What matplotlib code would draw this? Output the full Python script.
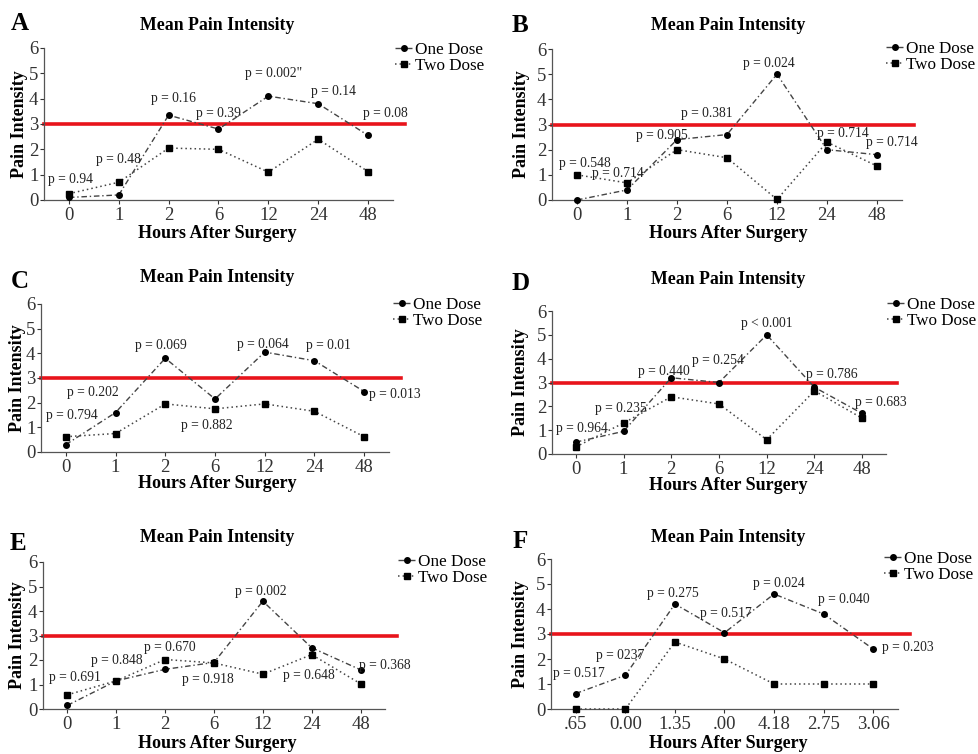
import matplotlib
matplotlib.use('Agg')
import matplotlib.pyplot as plt

plt.rcParams['font.family'] = ['Liberation Serif', 'DejaVu Serif']

W, H = 979, 754

hours = ['0', '1', '2', '6', '12', '24', '48']
hours_f = ['.65', '0.00', '1.35', '.00', '4.18', '2.75', '3.06']

# mean pain intensity per time point
a_one = [0.1, 0.2, 3.35, 2.8, 4.1, 3.8, 2.55]
a_two = [0.25, 0.7, 2.05, 2.0, 1.1, 2.4, 1.12]
b_one = [0.0, 0.4, 2.4, 2.6, 5.0, 2.0, 1.8]
b_two = [1.0, 0.68, 2.0, 1.68, 0.02, 2.3, 1.35]
c_one = [0.3, 1.6, 3.8, 2.15, 4.05, 3.7, 2.45]
c_two = [0.62, 0.75, 1.95, 1.75, 1.95, 1.65, 0.62]
d_one = [0.5, 0.95, 3.2, 3.0, 5.0, 2.8, 1.7]
d_two = [0.3, 1.3, 2.4, 2.1, 0.6, 2.65, 1.5]
e_one = [0.15, 1.15, 1.62, 1.9, 4.4, 2.5, 1.6]
e_two = [0.58, 1.15, 2.02, 1.88, 1.42, 2.22, 1.03]
f_one = [0.62, 1.35, 4.2, 3.05, 4.6, 3.8, 2.4]
f_two = [0.0, 0.0, 2.68, 2.0, 1.0, 1.0, 1.0]

# p values shown on each panel
a_p = ['p = 0.94', 'p = 0.48', 'p = 0.16', 'p = 0.39', 'p = 0.002"', 'p = 0.14', 'p = 0.08']
b_p = ['p = 0.548', 'p = 0.714', 'p = 0.905', 'p = 0.381', 'p = 0.024', 'p = 0.714', 'p = 0.714']
c_p = ['p = 0.794', 'p = 0.202', 'p = 0.069', 'p = 0.882', 'p = 0.064', 'p = 0.01', 'p = 0.013']
d_p = ['p = 0.964', 'p = 0.235', 'p = 0.440', 'p = 0.254', 'p < 0.001', 'p = 0.786', 'p = 0.683']
e_p = ['p = 0.691', 'p = 0.848', 'p = 0.670', 'p = 0.918', 'p = 0.002', 'p = 0.648', 'p = 0.368']
f_p = ['p = 0.517', 'p = 0237', 'p = 0.275', 'p = 0.517', 'p = 0.024', 'p = 0.040', 'p = 0.203']

threshold = 3

# where the p labels sit (data coords)
a_pxy = [(0.04, 0.8), (1.0, 1.6), (2.1, 4.0), (3.0, 3.4), (4.1, 5.0), (5.3, 4.3), (6.35, 3.4)]
b_pxy = [(0.15, 1.47), (0.81, 1.07), (1.7, 2.58), (2.6, 3.45), (3.83, 5.43), (5.31, 2.65), (6.3, 2.27)]
c_pxy = [(0.12, 1.46), (0.54, 2.43), (1.92, 4.3), (2.84, 1.09), (3.96, 4.37), (5.28, 4.3), (6.62, 2.35)]
d_pxy = [(0.12, 1.05), (0.95, 1.92), (1.85, 3.47), (2.98, 3.93), (4.0, 5.48), (5.37, 3.35), (6.39, 2.18)]
e_pxy = [(0.16, 1.27), (1.01, 1.96), (2.1, 2.5), (2.88, 1.22), (3.95, 4.8), (4.94, 1.35), (6.5, 1.76)]
f_pxy = [(0.06, 1.44), (0.89, 2.12), (1.95, 4.6), (3.02, 3.84), (4.1, 5.0), (5.4, 4.4), (6.7, 2.48)]

# layout in pixels: axes (left, right, top, bottom), title/xlabel y, ylabel x, letter, legend
panels = [
    ('A', a_one, a_two, a_p, a_pxy, hours, (44, 393, 48, 200), 217, 25, 233, 20, (20, 24), (395, 51)),
    ('B', b_one, b_two, b_p, b_pxy, hours, (552, 902, 49, 200), 728, 25, 233, 522, (520, 25), (886, 50)),
    ('C', c_one, c_two, c_p, c_pxy, hours, (41, 389, 304, 452), 217, 278, 484, 18, (20, 282), (393, 306)),
    ('D', d_one, d_two, d_p, d_pxy, hours, (552, 886, 311, 454), 728, 279, 485, 521, (521, 283), (887, 306)),
    ('E', e_one, e_two, e_p, e_pxy, hours, (43, 385, 562, 709), 217, 538, 743, 18, (18, 543), (398, 563)),
    ('F', f_one, f_two, f_p, f_pxy, hours_f, (551, 898, 559, 709), 728, 538, 743, 521, (520, 542), (884, 560)),
]

fig = plt.figure(figsize=(W / 100, H / 100), dpi=100)

for letter, one, two, plabs, pxy, ticks, box, tx, ty, xly, ylx, lxy, lg in panels:
    l, r, t, b = box
    ax = fig.add_axes([l / W, 1 - b / H, (r - l) / W, (b - t) / H])
    x = list(range(len(ticks)))

    ax.plot([-0.5, 6.74], [threshold, threshold], color='#e8141b', lw=2.6,
            clip_on=False, zorder=1)
    ax.plot(x, one, linestyle=(0, (4, 2, 1, 2)), color='#444444', lw=1.0,
            marker='o', ms=4.0, mfc='black', mec='black', label='One Dose', zorder=3,
            clip_on=False)
    ax.plot(x, two, linestyle=(0, (1, 2)), color='#444444', lw=1.1,
            marker='s', ms=5.0, mfc='black', mec='black', label='Two Dose', zorder=3,
            clip_on=False)

    for s, (px, py) in zip(plabs, pxy):
        ax.text(px, py, s, ha='center', va='center', fontsize=9.8, color='#222222')

    ax.set_xlim(-0.5, 6.5)
    ax.set_ylim(0, 6)
    ax.set_xticks(x)
    ax.set_xticklabels(ticks)
    ax.set_yticks(range(0, 7))
    ax.tick_params(axis='both', labelsize=13.5, length=3, width=0.8,
                   colors='#333333', pad=1)
    ax.tick_params(axis='x', pad=2)
    for sp in ['top', 'right']:
        ax.spines[sp].set_visible(False)
    for sp in ['left', 'bottom']:
        ax.spines[sp].set_color('#555555')
        ax.spines[sp].set_linewidth(0.9)

    leg = ax.legend(loc='upper left', bbox_to_anchor=(lg[0] / W, 1 - (lg[1] - 9) / H),
                    bbox_transform=fig.transFigure, frameon=False, fontsize=12.3,
                    handlelength=1.0, handletextpad=0.15, borderpad=0, borderaxespad=0,
                    labelspacing=0.0)

    fig.text(tx / W, 1 - ty / H, 'Mean Pain Intensity', ha='center', va='center',
             fontsize=12.8, fontweight='bold')
    fig.text(tx / W, 1 - xly / H, 'Hours After Surgery', ha='center', va='center',
             fontsize=13, fontweight='bold')
    fig.text(ylx / W, 1 - ((t + b) / 2) / H, 'Pain Intensity', ha='center', va='center',
             rotation=90, fontsize=13, fontweight='bold')
    fig.text(lxy[0] / W, 1 - lxy[1] / H, letter, ha='center', va='center',
             fontsize=18, fontweight='bold')

fig.savefig('out.png', dpi=100)
